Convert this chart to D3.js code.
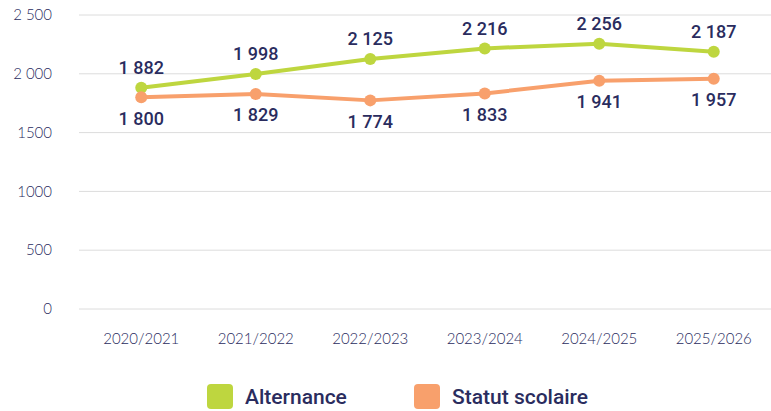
<!DOCTYPE html>
<html>
<head>
<meta charset="utf-8">
<script src="https://cdn.jsdelivr.net/npm/d3@7"></script>
<style>
  body { margin: 0; background: #fff; }
  svg { display: block; }
</style>
</head>
<body>
<div id="container"></div>
<script>
// data
const years = ["2020/2021", "2021/2022", "2022/2023", "2023/2024", "2024/2025", "2025/2026"];
const alternance = [1882, 1998, 2125, 2216, 2256, 2187];
const statutScolaire = [1800, 1829, 1774, 1833, 1941, 1957];
const yTicks = [0, 500, 1000, 1500, 2000, 2500];
const yTickLabels = ["0", "500", "1000", "1500", "2 000", "2 500"];
const seriesNames = ["Alternance", "Statut scolaire"];

const width = 771, height = 411;
const navy = "#2a2c5e";
const green = "#bed63f";
const orange = "#f8a06c";

const fmt = (v) => {
  const s = String(v);
  return s.length > 3 ? s.slice(0, s.length - 3) + " " + s.slice(-3) : s;
};

const svg = d3.select("#container")
  .append("svg")
  .attr("width", width)
  .attr("height", height);

const x = d3.scalePoint().domain(years).range([84, 771]).padding(0.5);
const y = d3.scaleLinear().domain([0, 2500]).range([309, 15]);

//grid lines
svg.append("g")
  .selectAll("line")
  .data(yTicks)
  .enter()
  .append("line")
  .attr("x1", 79)
  .attr("x2", 771)
  .attr("y1", (d) => y(d))
  .attr("y2", (d) => y(d))
  .attr("stroke", "#dcdcdc")
  .attr("stroke-width", 1);

//y labels
svg.append("g")
  .selectAll("text")
  .data(yTicks)
  .enter()
  .append("text")
  .attr("x", 52)
  .attr("y", (d) => y(d))
  .attr("dy", "0.35em")
  .attr("text-anchor", "end")
  .attr("font-family", "Lato, sans-serif")
  .attr("font-weight", 300)
  .attr("font-size", 15)
  .attr("fill", navy)
  .text((d, i) => yTickLabels[i]);

//x labels
svg.append("g")
  .selectAll("text")
  .data(years)
  .enter()
  .append("text")
  .attr("x", (d) => x(d))
  .attr("y", 344)
  .attr("text-anchor", "middle")
  .attr("font-family", "Lato, sans-serif")
  .attr("font-weight", 300)
  .attr("font-size", 15)
  .attr("fill", navy)
  .text((d) => d);

const line = d3.line()
  .x((d, i) => x(years[i]))
  .y((d) => y(d));

const drawSeries = (values, color, labelDy) => {
  svg.append("path")
    .datum(values)
    .attr("d", line)
    .attr("fill", "none")
    .attr("stroke", color)
    .attr("stroke-width", 4)
    .attr("stroke-linejoin", "round");
  svg.append("g")
    .selectAll("circle")
    .data(values)
    .enter()
    .append("circle")
    .attr("cx", (d, i) => x(years[i]))
    .attr("cy", (d) => y(d))
    .attr("r", 6)
    .attr("fill", color);
  svg.append("g")
    .selectAll("text")
    .data(values)
    .enter()
    .append("text")
    .attr("x", (d, i) => x(years[i]))
    .attr("y", (d) => y(d) + labelDy)
    .attr("dy", "0.35em")
    .attr("text-anchor", "middle")
    .attr("font-family", "Roboto, sans-serif")
    .attr("font-weight", 500)
    .attr("font-size", 18)
    .attr("fill", navy)
    .text((d) => fmt(d));
};

drawSeries(alternance, green, -20);
drawSeries(statutScolaire, orange, 21);

//legend
const legendX = [207, 414];
const legendColors = [green, orange];
const legend = svg.append("g")
  .selectAll("g")
  .data(seriesNames)
  .enter()
  .append("g")
  .attr("transform", (d, i) => `translate(${legendX[i]}, 384)`);
legend.append("rect")
  .attr("width", 26)
  .attr("height", 25)
  .attr("rx", 4)
  .attr("fill", (d, i) => legendColors[i]);
legend.append("text")
  .attr("x", 38)
  .attr("y", 13)
  .attr("dy", "0.35em")
  .attr("font-family", "Roboto, sans-serif")
  .attr("font-weight", 500)
  .attr("font-size", 21)
  .attr("fill", navy)
  .text((d) => d);
</script>
</body>
</html>
